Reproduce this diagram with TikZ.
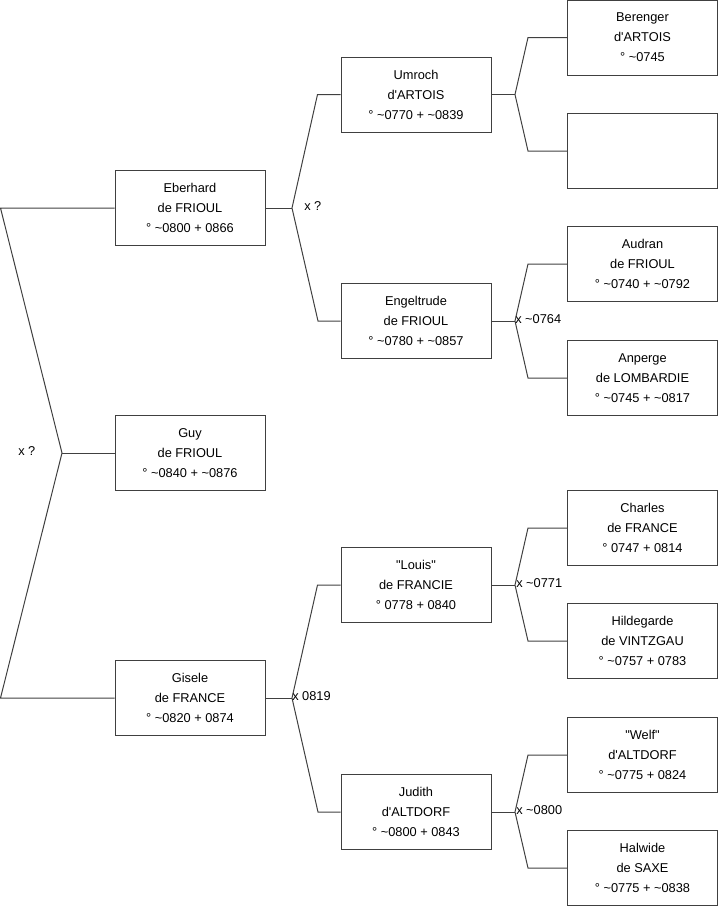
\documentclass[tikz,border=0pt]{standalone}
\usepackage{fontspec}
\setmainfont{Liberation Sans}[Ligatures=TeXOff]
\usetikzlibrary{positioning,calc}

\begin{document}
\begin{tikzpicture}[x=0.75pt,y=-0.75pt,
  font=\fontsize{9.6}{15}\selectfont,
  person/.style={draw=black!75,line width=0.75pt,align=center,inner sep=0pt,
    minimum width=112.5pt,minimum height=56.25pt,fill=white},
  link/.style={draw=black!75,line width=0.75pt},
  union/.style={anchor=west,inner sep=0pt}]
\useasboundingbox (0,0) rectangle (719,908);
% generation 1
\node[person] (eberhard) at (190,208) {Eberhard\\de FRIOUL\\° \textasciitilde 0800 + 0866};
\node[person] (guy) at (190,453) {Guy\\de FRIOUL\\° \textasciitilde 0840 + \textasciitilde 0876};
\node[person] (gisele) at (190,698) {Gisele\\de FRANCE\\° \textasciitilde 0820 + 0874};
% generation 2
\node[person] (umroch) at (416,94.5) {Umroch\\d'ARTOIS\\° \textasciitilde 0770 + \textasciitilde 0839};
\node[person] (engeltrude) at (416,321) {Engeltrude\\de FRIOUL\\° \textasciitilde 0780 + \textasciitilde 0857};
\node[person] (louis) at (416,585) {"Louis"\\de FRANCIE\\° 0778 + 0840};
\node[person] (judith) at (416,812) {Judith\\d'ALTDORF\\° \textasciitilde 0800 + 0843};
% generation 3
\node[person] (berenger) at (642.5,37.5) {Berenger\\d'ARTOIS\\° \textasciitilde 0745};
\node[person] (unknown) at (642.5,151) {};
\node[person] (audran) at (642.5,264) {Audran\\de FRIOUL\\° \textasciitilde 0740 + \textasciitilde 0792};
\node[person] (anperge) at (642.5,378) {Anperge\\de LOMBARDIE\\° \textasciitilde 0745 + \textasciitilde 0817};
\node[person] (charles) at (642.5,528) {Charles\\de FRANCE\\° 0747 + 0814};
\node[person] (hildegarde) at (642.5,641) {Hildegarde\\de VINTZGAU\\° \textasciitilde 0757 + 0783};
\node[person] (welf) at (642.5,755) {"Welf"\\d'ALTDORF\\° \textasciitilde 0775 + 0824};
\node[person] (halwide) at (642.5,868) {Halwide\\de SAXE\\° \textasciitilde 0775 + \textasciitilde 0838};

% root couple
\coordinate (r0) at (0.5,208);
\coordinate (r1) at (62,453);
\coordinate (r2) at (0.5,698);
\draw[link] (eberhard.west) -- (r0) -- (r1) -- (r2) -- (gisele.west);
\draw[link] (r1) -- (guy.west);
\node[union] (m0) at (18,451) {x ?};

% parents of Eberhard
\coordinate (a0) at (292,208);
\draw[link] (eberhard.east) -- (a0);
\draw[link] (umroch.west) -- ++(-23,0) -- (a0) -- (318,321) -- (engeltrude.west);
\node[union] (m1) at (304,206) {x ?};

% parents of Umroch
\coordinate (b0) at (515,94.5);
\draw[link] (umroch.east) -- (b0);
\draw[link] (berenger.west) -- ++(-39,0) -- (b0) -- (528,151) -- (unknown.west);

% parents of Engeltrude
\coordinate (c0) at (515,321);
\draw[link] (engeltrude.east) -- (c0);
\draw[link] (audran.west) -- ++(-39,0) -- (c0) -- (528,378) -- (anperge.west);
\node[union] (m2) at (515,319) {x \textasciitilde 0764};

% parents of Gisele
\coordinate (d0) at (292,698);
\draw[link] (gisele.east) -- (d0);
\draw[link] (louis.west) -- ++(-23,0) -- (d0) -- (318,812) -- (judith.west);
\node[union] (m3) at (292,696) {x 0819};

% parents of Louis
\coordinate (e0) at (515,585);
\draw[link] (louis.east) -- (e0);
\draw[link] (charles.west) -- ++(-39,0) -- (e0) -- (528,641) -- (hildegarde.west);
\node[union] (m4) at (516,583) {x \textasciitilde 0771};

% parents of Judith
\coordinate (f0) at (515,812);
\draw[link] (judith.east) -- (f0);
\draw[link] (welf.west) -- ++(-39,0) -- (f0) -- (528,868) -- (halwide.west);
\node[union] (m5) at (516,810) {x \textasciitilde 0800};
\end{tikzpicture}
\end{document}
